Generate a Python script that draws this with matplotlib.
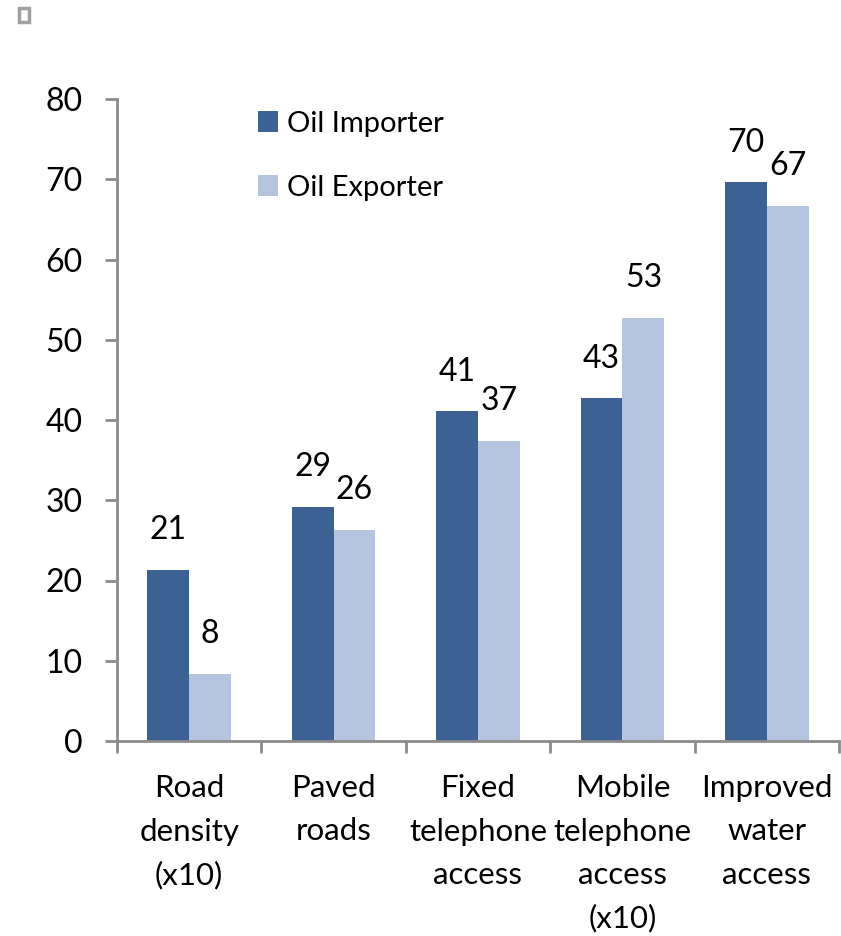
import matplotlib
matplotlib.use("Agg")
import matplotlib.pyplot as plt
from matplotlib.patches import Rectangle
import numpy as np

categories = ["Road\ndensity\n(x10)", "Paved\nroads", "Fixed\ntelephone\naccess",
              "Mobile\ntelephone\naccess\n(x10)", "Improved\nwater\naccess"]
oil_importer = [21.3, 29.2, 41.1, 42.7, 69.6]
oil_exporter = [8.4, 26.3, 37.4, 52.7, 66.7]
series_names = ["Oil Importer", "Oil Exporter"]
yticks = [0, 10, 20, 30, 40, 50, 60, 70, 80]

plt.rcParams['font.family'] = ['Lato', 'DejaVu Sans']
FS = 23
FS_CAT = 22.5
FS_LEG = 21
c_imp = "#3B6292"
c_exp = "#B4C4DE"
axis_col = "#8C8C8C"

fig = plt.figure(figsize=(8.41, 9.36), dpi=100)
ax = fig.add_axes([117/841, (936-741)/936, (839-117)/841, (741-99)/936])

x = np.arange(len(categories))
w = 0.29
b1 = ax.bar(x - w/2, oil_importer, w, color=c_imp, label=series_names[0])
b2 = ax.bar(x + w/2, oil_exporter, w, color=c_exp, label=series_names[1])

for bars, vals in ((b1, oil_importer), (b2, oil_exporter)):
    for r, v in zip(bars, vals):
        ax.annotate(f"{round(v):d}", (r.get_x() + r.get_width()/2, v),
                    xytext=(0, 28.5), textcoords="offset points",
                    ha="center", va="center", fontsize=FS, color="black")

ax.set_xlim(-0.5, len(categories) - 0.5)
ax.set_ylim(0, 80)
ax.set_yticks(yticks)
ax.set_yticklabels([str(t) for t in yticks], fontsize=FS)
ax.set_xticks(np.arange(len(categories) + 1) - 0.5)
ax.set_xticklabels([])
ax.tick_params(axis="y", direction="out", length=8.6, width=2, color=axis_col, pad=16)
ax.tick_params(axis="x", direction="out", length=8.6, width=2, color=axis_col)
for s in ("top", "right"):
    ax.spines[s].set_visible(False)
for s in ("left", "bottom"):
    ax.spines[s].set_color(axis_col)
    ax.spines[s].set_linewidth(2)

for i, c in enumerate(categories):
    lines = c.split("\n")
    for j, ln in enumerate(lines):
        ax.annotate(ln, (i, 0), xycoords=("data", "data"),
                    xytext=(0, -(788 - 741 + j*43.5) * 72/100), textcoords="offset points",
                    ha="center", va="center", fontsize=FS_CAT, annotation_clip=False)

leg = ax.legend(loc="upper left", bbox_to_anchor=((246-117)/722, 1 - (99-99)/642),
                frameon=False, fontsize=FS_LEG, handlelength=0.7, handleheight=0.7,
                handletextpad=0.3, labelspacing=1.3, borderaxespad=0)

fig.patches.append(Rectangle((19/841, 1 - 22/936), 10/841, 14/936, transform=fig.transFigure,
                             fill=False, edgecolor="#A0A0A0", linewidth=2.5))

fig.savefig("out.png", dpi=100)
